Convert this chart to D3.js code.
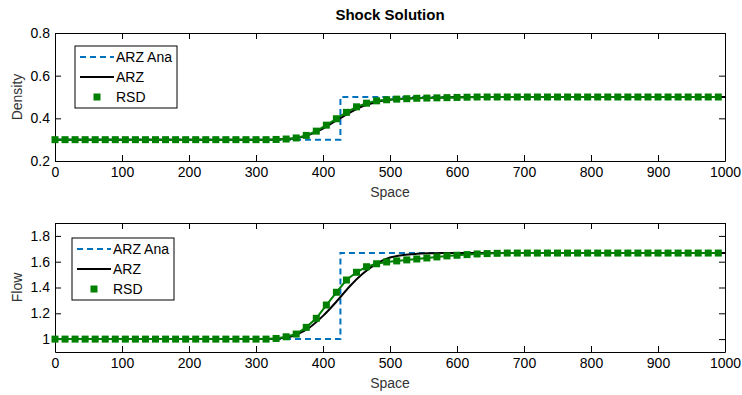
<!DOCTYPE html>
<html>
<head>
<meta charset="utf-8">
<script src="https://cdn.jsdelivr.net/npm/d3@7"></script>
<style>
  html, body { margin: 0; padding: 0; background: #fff; }
  svg text { font-family: "Liberation Sans", Arial, Helvetica, sans-serif; }
</style>
</head>
<body>
<svg id="chart" width="742" height="395"></svg>
<script>
// ---------------- data ----------------
const titleText = "Shock Solution";
const xTicks = [0, 100, 200, 300, 400, 500, 600, 700, 800, 900, 1000];
const densityTicks = [0.2, 0.4, 0.6, 0.8];
const flowTicks = [1, 1.2, 1.4, 1.6, 1.8];
const seriesNames = ["ARZ Ana", "ARZ", "RSD"];

// RSD sample positions
const rsdX = [0, 15, 30, 45, 60, 75, 90, 105, 120, 135, 150, 165, 180, 195, 210, 225, 240, 255, 270, 285,
  300, 315, 330, 345, 360, 375, 390, 405, 420, 435, 450, 465, 480, 495, 510, 525, 540, 555, 570, 585,
  600, 615, 630, 645, 660, 675, 690, 705, 720, 735, 750, 765, 780, 795, 810, 825, 840, 855, 870, 885,
  900, 915, 930, 945, 960, 975, 990];
const rsdDensity = [0.3, 0.3, 0.3, 0.3, 0.3, 0.3, 0.3, 0.3, 0.3, 0.3, 0.3, 0.3, 0.3, 0.3, 0.3, 0.3, 0.3, 0.3, 0.3, 0.3,
  0.3, 0.3, 0.301, 0.303, 0.308, 0.32, 0.34, 0.368, 0.398, 0.428, 0.454, 0.471, 0.482, 0.487, 0.49, 0.492, 0.494, 0.495, 0.496, 0.497,
  0.498, 0.499, 0.5, 0.5, 0.5, 0.5, 0.5, 0.5, 0.5, 0.5, 0.5, 0.5, 0.5, 0.5, 0.5, 0.5, 0.5, 0.5, 0.5, 0.5,
  0.5, 0.5, 0.5, 0.5, 0.5, 0.5, 0.5];
const rsdFlow = [1, 1, 1, 1, 1, 1, 1, 1, 1, 1, 1, 1, 1, 1, 1, 1, 1, 1, 1, 1,
  1, 1, 1.005, 1.018, 1.039, 1.091, 1.161, 1.264, 1.363, 1.458, 1.518, 1.561, 1.584, 1.598, 1.606, 1.614, 1.621, 1.629, 1.637, 1.645,
  1.65, 1.655, 1.66, 1.663, 1.665, 1.667, 1.667, 1.667, 1.667, 1.667, 1.667, 1.667, 1.667, 1.667, 1.667, 1.667, 1.667, 1.667, 1.667, 1.667,
  1.667, 1.667, 1.667, 1.667, 1.667, 1.667, 1.667];

// ARZ numerical
const arzX = [0, 300, 320, 340, 360, 380, 400, 420, 440, 460, 480, 500, 520, 540, 560, 580, 600, 650, 1000];
const arzDensity = [0.3, 0.3, 0.3, 0.302, 0.307, 0.324, 0.352, 0.39, 0.427, 0.458, 0.477, 0.487, 0.492, 0.495, 0.497, 0.498, 0.499, 0.5, 0.5];
const arzFlow = [1, 1, 1.001, 1.008, 1.033, 1.09, 1.18, 1.29, 1.41, 1.51, 1.585, 1.632, 1.652, 1.661, 1.665, 1.667, 1.667, 1.667, 1.667];

// ARZ analytical (shock)
const anaX = [0, 426, 426, 1000];
const anaDensity = [0.3, 0.3, 0.5, 0.5];
const anaFlow = [1, 1, 1.667, 1.667];

// ---------------- drawing ----------------
const svg = d3.select("#chart");
svg.append("rect").attr("width", 742).attr("height", 395).attr("fill", "#fff");

const colAna = "#0072BD", colArz = "#000000", colRsd = "#008000";

svg.append("text").attr("x", 390).attr("y", 20).attr("text-anchor", "middle")
  .attr("font-size", 15).attr("font-weight", "bold").attr("fill", "#000").text(titleText);

function panel(cfg) {
  const x = d3.scaleLinear().domain([0, 1000]).range([55, 725]);
  const y = d3.scaleLinear().domain(cfg.yDomain).range([cfg.bottom, cfg.top]);
  const g = svg.append("g");
  const tickLen = 6;

  // box
  g.append("rect").attr("x", 55).attr("y", cfg.top).attr("width", 670).attr("height", cfg.bottom - cfg.top)
    .attr("fill", "#fff").attr("stroke", "none");

  // axes with inward ticks
  const axB = d3.axisBottom(x).tickValues(xTicks).tickSizeInner(-tickLen).tickSizeOuter(0).tickPadding(6).tickFormat(d3.format("d"));
  const axT = d3.axisTop(x).tickValues(xTicks).tickSizeInner(-tickLen).tickSizeOuter(0).tickFormat("");
  const axL = d3.axisLeft(y).tickValues(cfg.yTicks).tickSizeInner(-tickLen).tickSizeOuter(0).tickPadding(5).tickFormat(d3.format("~g"));
  const axR = d3.axisRight(y).tickValues(cfg.yTicks).tickSizeInner(-tickLen).tickSizeOuter(0).tickFormat("");

  const styleAxis = s => {
    s.selectAll("path").attr("stroke", "#000").attr("stroke-width", 1);
    s.selectAll("line").attr("stroke", "#000").attr("stroke-width", 1);
    s.selectAll("text").attr("font-size", 14).attr("fill", "#000")
      .attr("font-family", "'Liberation Sans', Arial, Helvetica, sans-serif");
  };
  g.append("g").attr("transform", `translate(0,${cfg.bottom})`).call(axB).call(styleAxis);
  g.append("g").attr("transform", `translate(0,${cfg.top})`).call(axT).call(styleAxis);
  g.append("g").attr("transform", `translate(55,0)`).call(axL).call(styleAxis);
  g.append("g").attr("transform", `translate(725,0)`).call(axR).call(styleAxis);

  // axis labels
  g.append("text").attr("x", 390).attr("y", cfg.bottom + 36).attr("text-anchor", "middle")
    .attr("font-size", 14).attr("fill", "#333").text("Space");
  g.append("text").attr("transform", `translate(22,${(cfg.top + cfg.bottom) / 2}) rotate(-90)`)
    .attr("text-anchor", "middle").attr("font-size", 14).attr("fill", "#333").text(cfg.yLabel);

  // analytical
  const lineLin = d3.line().x(d => x(d[0])).y(d => y(d[1]));
  g.append("path").datum(anaX.map((v, i) => [v, cfg.ana[i]]))
    .attr("d", lineLin).attr("fill", "none").attr("stroke", colAna).attr("stroke-width", 2)
    .attr("stroke-dasharray", "6,4");

  // ARZ
  const lineSmooth = d3.line().x(d => x(d[0])).y(d => y(d[1])).curve(d3.curveMonotoneX);
  g.append("path").datum(arzX.map((v, i) => [v, cfg.arz[i]]))
    .attr("d", lineSmooth).attr("fill", "none").attr("stroke", colArz).attr("stroke-width", 2);

  // RSD
  const rsd = rsdX.map((v, i) => [v, cfg.rsd[i]]);
  g.append("path").datum(rsd).attr("d", lineLin).attr("fill", "none")
    .attr("stroke", colRsd).attr("stroke-width", 2);
  const ms = 7;
  g.selectAll("rect.m").data(rsd).enter().append("rect").attr("class", "m")
    .attr("x", d => x(d[0]) - ms / 2).attr("y", d => y(d[1]) - ms / 2)
    .attr("width", ms).attr("height", ms).attr("fill", colRsd);

  // legend
  const L = cfg.legend;
  const lg = g.append("g").attr("transform", `translate(${L.x},${L.y})`);
  lg.append("rect").attr("x", 0).attr("y", 0).attr("width", 102).attr("height", 62)
    .attr("fill", "#fff").attr("stroke", "#000").attr("stroke-width", 1);
  const rows = [11, 31, 51];
  lg.append("line").attr("x1", 5).attr("x2", 39).attr("y1", rows[0]).attr("y2", rows[0])
    .attr("stroke", colAna).attr("stroke-width", 2).attr("stroke-dasharray", "6,4");
  lg.append("line").attr("x1", 5).attr("x2", 39).attr("y1", rows[1]).attr("y2", rows[1])
    .attr("stroke", colArz).attr("stroke-width", 2);
  lg.append("rect").attr("x", 22 - ms / 2).attr("y", rows[2] - ms / 2).attr("width", ms).attr("height", ms).attr("fill", colRsd);
  seriesNames.forEach((n, i) => {
    lg.append("text").attr("x", 41).attr("y", rows[i]).attr("dy", "0.35em")
      .attr("font-size", 14).attr("fill", "#000").text(n);
  });
}

panel({ top: 33, bottom: 161, yDomain: [0.2, 0.8], yTicks: densityTicks, yLabel: "Density",
  ana: anaDensity, arz: arzDensity, rsd: rsdDensity, legend: { x: 75, y: 46 } });
panel({ top: 223, bottom: 352, yDomain: [0.9, 1.9], yTicks: flowTicks, yLabel: "Flow",
  ana: anaFlow, arz: arzFlow, rsd: rsdFlow, legend: { x: 72, y: 238 } });
</script>
</body>
</html>
